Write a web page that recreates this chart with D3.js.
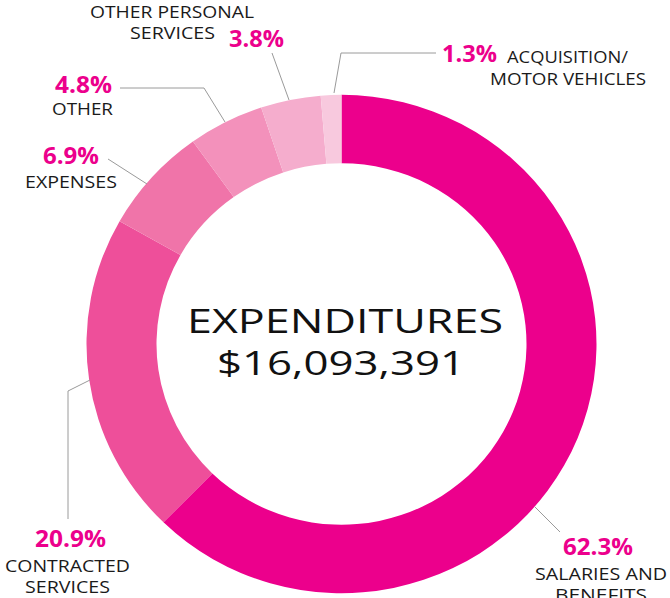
<!DOCTYPE html>
<html>
<head>
<meta charset="utf-8">
<script src="https://cdn.jsdelivr.net/npm/d3@7"></script>
<style>
  body { margin: 0; background: #fff; }
  text { font-family: "Open Sans", Lato, sans-serif; }
</style>
</head>
<body>
<div id="donut"></div>
<script>
// Data
const categories = ["SALARIES AND BENEFITS", "CONTRACTED SERVICES", "EXPENSES", "OTHER", "OTHER PERSONAL SERVICES", "ACQUISITION/ MOTOR VEHICLES"];
const shares = [62.3, 20.9, 6.9, 4.8, 3.8, 1.3];
const totalLabel = "$16,093,391";
const title = "EXPENDITURES";

// Colors (one per slice)
const colors = ["#EC008C", "#EE4F9A", "#F074A9", "#F391BB", "#F5ADCD", "#F8C9DE"];

const WIDTH = 670;
const HEIGHT = 598;
const CX = 341.5;
const CY = 344;

// Label layout: percent position + width, name lines [x, y, width], leader line points
const labelLayout = [
  { pct: [598, 555, 70], lines: [[601, 580, 132], [601, 601, 92]], nameText: ["SALARIES AND", "BENEFITS"], leader: [[535, 507], [560, 532]] },
  { pct: [70.5, 547, 71], lines: [[67.5, 572, 125], [67.5, 593, 85]], nameText: ["CONTRACTED", "SERVICES"], leader: [[90, 380], [68, 391], [68, 519]] },
  { pct: [71, 164, 56], lines: [[71, 188, 92]], nameText: ["EXPENSES"], leader: [[108, 159], [147, 184]] },
  { pct: [83.5, 93, 57], lines: [[82.5, 115, 61]], nameText: ["OTHER"], leader: [[120, 88], [204, 88], [225, 122]] },
  { pct: [256.5, 47, 55], lines: [[172, 18, 164], [172.5, 39, 85]], nameText: ["OTHER PERSONAL", "SERVICES"], leader: [[272, 53], [289, 100]] },
  { pct: [469.5, 62, 55], lines: [[567.5, 63, 121], [568, 85, 156]], nameText: ["ACQUISITION/", "MOTOR VEHICLES"], leader: [[334, 93], [341, 53], [436, 53]] }
];

const svg = d3
  .select("#donut")
  .append("svg")
  .attr("width", WIDTH)
  .attr("height", HEIGHT);

const pie = d3.pie().sort(null).value((d) => d);
const arcs = pie(shares);

const arc = d3.arc().innerRadius(185).outerRadius(255);

// ring is slightly squashed vertically in the reference
svg
  .append("g")
  .attr("transform", `translate(${CX}, ${CY}) scale(1, 0.977)`)
  .selectAll("path")
  .data(arcs)
  .enter()
  .append("path")
  .attr("d", arc)
  .attr("fill", (d, i) => colors[i]);

// Leader lines
svg
  .selectAll("polyline.leader")
  .data(labelLayout)
  .enter()
  .append("polyline")
  .attr("class", "leader")
  .attr("points", (d) => d.leader.map((p) => p.join(",")).join(" "))
  .attr("fill", "none")
  .attr("stroke", "#9a9a9a")
  .attr("stroke-width", 1);

// Percentages
svg
  .selectAll("text.pct")
  .data(labelLayout)
  .enter()
  .append("text")
  .attr("class", "pct")
  .attr("x", (d) => d.pct[0])
  .attr("y", (d) => d.pct[1])
  .attr("text-anchor", "middle")
  .attr("font-size", "23px")
  .attr("font-weight", "bold")
  .attr("fill", "#EC008C")
  .attr("textLength", (d) => d.pct[2])
  .attr("lengthAdjust", "spacingAndGlyphs")
  .text((d, i) => shares[i].toFixed(1) + "%");

// Category names
labelLayout.forEach((d) => {
  d.nameText.forEach((line, j) => {
    svg
      .append("text")
      .attr("x", d.lines[j][0])
      .attr("y", d.lines[j][1])
      .attr("text-anchor", "middle")
      .attr("font-size", "16.5px")
      .attr("fill", "#1a1a1a")
      .attr("textLength", d.lines[j][2])
      .attr("lengthAdjust", "spacingAndGlyphs")
      .text(line);
  });
});

// Center title
svg
  .append("text")
  .attr("x", 345)
  .attr("y", 333)
  .attr("text-anchor", "middle")
  .attr("font-size", "32px")
  .attr("fill", "#111")
  .attr("textLength", 316)
  .attr("lengthAdjust", "spacingAndGlyphs")
  .text(title);

svg
  .append("text")
  .attr("x", 341)
  .attr("y", 375)
  .attr("text-anchor", "middle")
  .attr("font-size", "32px")
  .attr("fill", "#111")
  .attr("textLength", 248)
  .attr("lengthAdjust", "spacingAndGlyphs")
  .text(totalLabel);
</script>
</body>
</html>
